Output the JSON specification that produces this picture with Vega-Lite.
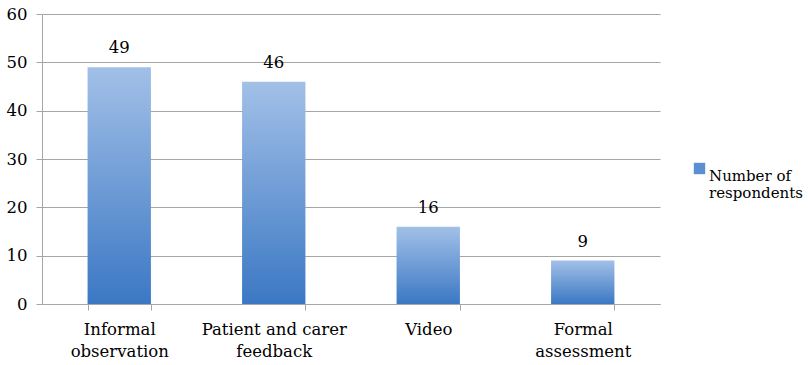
{
  "$schema": "https://vega.github.io/schema/vega-lite/v6.json",
  "width": 618,
  "height": 290,
  "autosize": "none",
  "padding": {"left": 42, "top": 14, "right": 148, "bottom": 61},
  "background": "white",
  "data": {
    "values": [
      {"method": "Informal observation", "respondents": 49, "series": "Number of respondents"},
      {"method": "Patient and carer feedback", "respondents": 46, "series": "Number of respondents"},
      {"method": "Video", "respondents": 16, "series": "Number of respondents"},
      {"method": "Formal assessment", "respondents": 9, "series": "Number of respondents"}
    ]
  },
  "encoding": {
    "x": {
      "field": "method",
      "type": "nominal",
      "sort": null,
      "scale": {"paddingInner": 0.59, "paddingOuter": 0.295},
      "axis": {
        "title": null,
        "labelAngle": 0,
        "labelFont": "DejaVu Serif",
        "labelFontSize": 16.5,
        "labelColor": "#000000",
        "labelLineHeight": 22,
        "labelPadding": 11,
        "labelBaseline": "top",
        "labelExpr": "datum.value == 'Informal observation' ? ['Informal', 'observation'] : datum.value == 'Patient and carer feedback' ? ['Patient and carer', 'feedback'] : datum.value == 'Formal assessment' ? ['Formal', 'assessment'] : datum.value",
        "domainColor": "#a6a6a6",
        "tickColor": "#a6a6a6",
        "tickSize": 6,
        "tickBand": "extent",
        "grid": false
      }
    },
    "y": {
      "field": "respondents",
      "type": "quantitative",
      "scale": {"domain": [0, 60], "nice": false},
      "axis": {
        "title": null,
        "values": [0, 10, 20, 30, 40, 50, 60],
        "labelFont": "DejaVu Serif",
        "labelFontSize": 16.5,
        "labelColor": "#000000",
        "labelPadding": 9,
        "domainColor": "#a6a6a6",
        "tickColor": "#a6a6a6",
        "tickSize": 6,
        "gridColor": "#a6a6a6",
        "gridWidth": 1
      }
    }
  },
  "layer": [
    {
      "mark": {
        "type": "bar",
        "fill": {
          "gradient": "linear",
          "x1": 0, "y1": 0, "x2": 0, "y2": 1,
          "stops": [
            {"offset": 0, "color": "#a2c0e7"},
            {"offset": 1, "color": "#3b78c4"}
          ]
        }
      },
      "encoding": {}
    },
    {
      "mark": {"type": "square", "size": 0, "opacity": 1},
      "encoding": {
        "x": {"field": "method", "type": "nominal", "sort": null},
        "color": {
          "field": "series",
          "type": "nominal",
          "scale": {"range": ["#5c8fd2"]},
          "legend": {
            "title": null,
            "orient": "none",
            "legendX": 650,
            "legendY": 147,
            "padding": 0,
            "symbolType": "square",
            "symbolSize": 130,
            "symbolStrokeWidth": 0,
            "symbolOpacity": 1,
            "labelFont": "DejaVu Serif",
            "labelFontSize": 15,
            "labelColor": "#000000",
            "labelOffset": 2,
            "labelLineHeight": 20,
            "labelBaseline": "top",
            "labelLimit": 200,
            "labelExpr": "['Number of', 'respondents']"
          }
        }
      }
    },
    {
      "mark": {
        "type": "text",
        "baseline": "alphabetic",
        "dy": -14,
        "font": "DejaVu Serif",
        "fontSize": 16.5,
        "color": "#000000"
      },
      "encoding": {
        "text": {"field": "respondents", "type": "quantitative"}
      }
    }
  ],
  "config": {
    "view": {"stroke": null}
  }
}
